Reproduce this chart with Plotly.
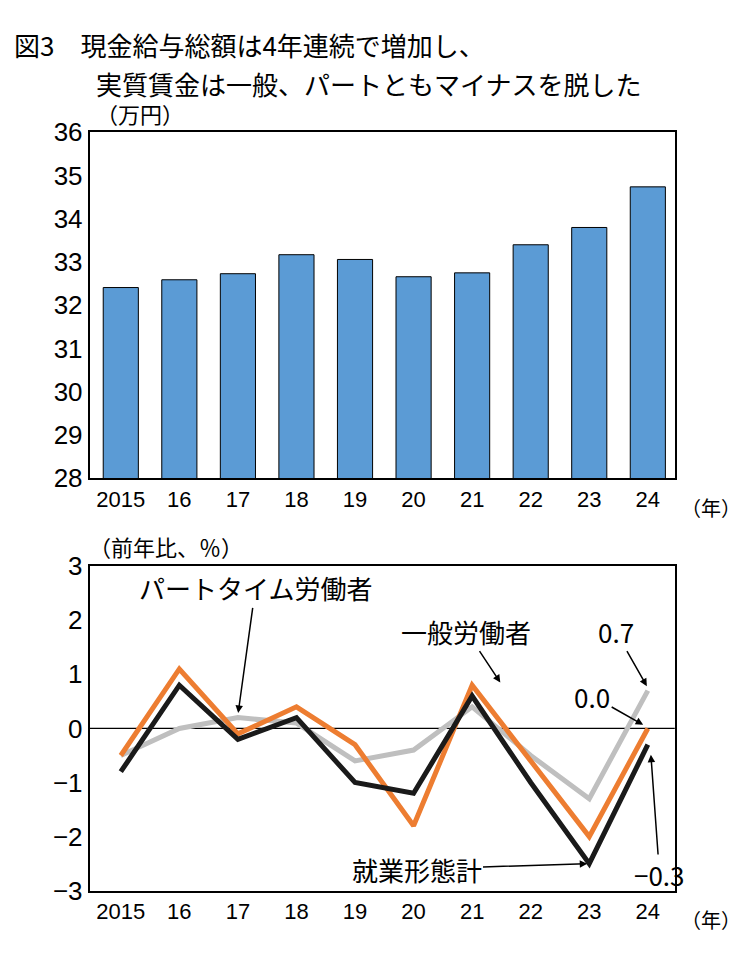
import plotly.graph_objects as go

years = ["2015","16","17","18","19","20","21","22","23","24"]
wage = [32.41,32.59,32.73,33.17,33.06,32.66,32.75,33.40,33.80,34.74]
total = [-0.8,0.8,-0.2,0.2,-1.0,-1.2,0.6,-1.0,-2.5,-0.3]
general = [-0.5,1.1,-0.1,0.4,-0.3,-1.8,0.8,-0.6,-2.0,0.0]
part = [-0.5,0.0,0.2,0.1,-0.6,-0.4,0.4,-0.5,-1.3,0.7]
xi = list(range(len(years)))
F = "Noto Sans CJK JP"

fig = go.Figure()
fig.add_bar(x=xi, y=wage, marker=dict(color="#5B9BD5", line=dict(color="black", width=1)),
            width=0.6, xaxis="x", yaxis="y", showlegend=False)
fig.add_shape(type="line", x0=0, x1=1, y0=0, y1=0, xref="x2 domain", yref="y2",
              line=dict(color="black", width=1.2), layer="below")
for s, c in [(part,"#BFBFBF"),(general,"#ED7D31"),(total,"#1A1A1A")]:
    fig.add_scatter(x=xi, y=s, mode="lines", line=dict(color=c, width=5), xaxis="x2", yaxis="y2", showlegend=False)

ax = dict(showline=True, mirror=True, linecolor="black", linewidth=2, ticks="", showgrid=False, zeroline=False,
          tickfont=dict(family="Liberation Sans Narrow, Liberation Sans", size=22, color="black"))
fig.update_layout(
    width=750, height=957, margin=dict(l=0,r=0,t=0,b=0), plot_bgcolor="white", paper_bgcolor="white",
    font=dict(family=F, color="black"),
    xaxis=dict(ax, domain=[0.109,0.889], anchor="y", range=[-0.53,9.46], tickvals=xi, ticktext=years),
    yaxis=dict(ax, domain=[0.509,0.882], anchor="x", range=[28,36], tickvals=list(range(28,37)),
               tickfont=dict(family="Liberation Sans Narrow, Liberation Sans", size=26, color="black")),
    xaxis2=dict(ax, domain=[0.109,0.889], anchor="y2", range=[-0.53,9.46], tickvals=xi, ticktext=years),
    yaxis2=dict(ax, domain=[0.064,0.414], anchor="x2", range=[-3,3], tickvals=list(range(-3,4)),
                ticktext=["−3","−2","−1","0","1","2","3"],
                tickfont=dict(family="Liberation Sans Narrow, Liberation Sans", size=26, color="black")),
)
def t(x,y,s,size=24,xa="left"):
    fig.add_annotation(x=x,y=y,xref="paper",yref="paper",text=s,showarrow=False,xanchor=xa,yanchor="middle",
                       font=dict(family=F,size=size,color="black"))
t(0.005,1-22/957,"図3　現金給与総額は4年連続で増加し、",26)
t(0.115,1-62/957,"実質賃金は一般、パートともマイナスを脱した",26)
t(0.115,1-93/957,"（万円）",22)
t(0.895,1-500/957,"（年）",20)
t(0.895,1-925/957,"（年）",20)
t(0.105,1-540/957,"（前年比、％）",22)

def arr(text, tx, ty, hx, hy, size=26):
    fig.add_annotation(x=hx,y=hy,xref="x2",yref="y2",ax=tx,ay=ty,axref="x2",ayref="y2",text=text,
                       showarrow=True,arrowhead=2,arrowsize=1,arrowwidth=1.5,arrowcolor="black",
                       font=dict(family=F,size=size,color="black"),standoff=2)
arr("パートタイム労働者", 2.3, 2.6, 2.0, 0.25)
arr("一般労働者", 5.9, 1.8, 6.5, 0.82)
arr("0.7", 8.45, 1.8, 9.0, 0.75)
arr("0.0", 8.05, 0.6, 8.95, 0.05)
arr("就業形態計", 5.05, -2.6, 8.0, -2.5)
arr("−0.3", 9.2, -2.7, 9.05, -0.45)
fig.write_html("out.html")
